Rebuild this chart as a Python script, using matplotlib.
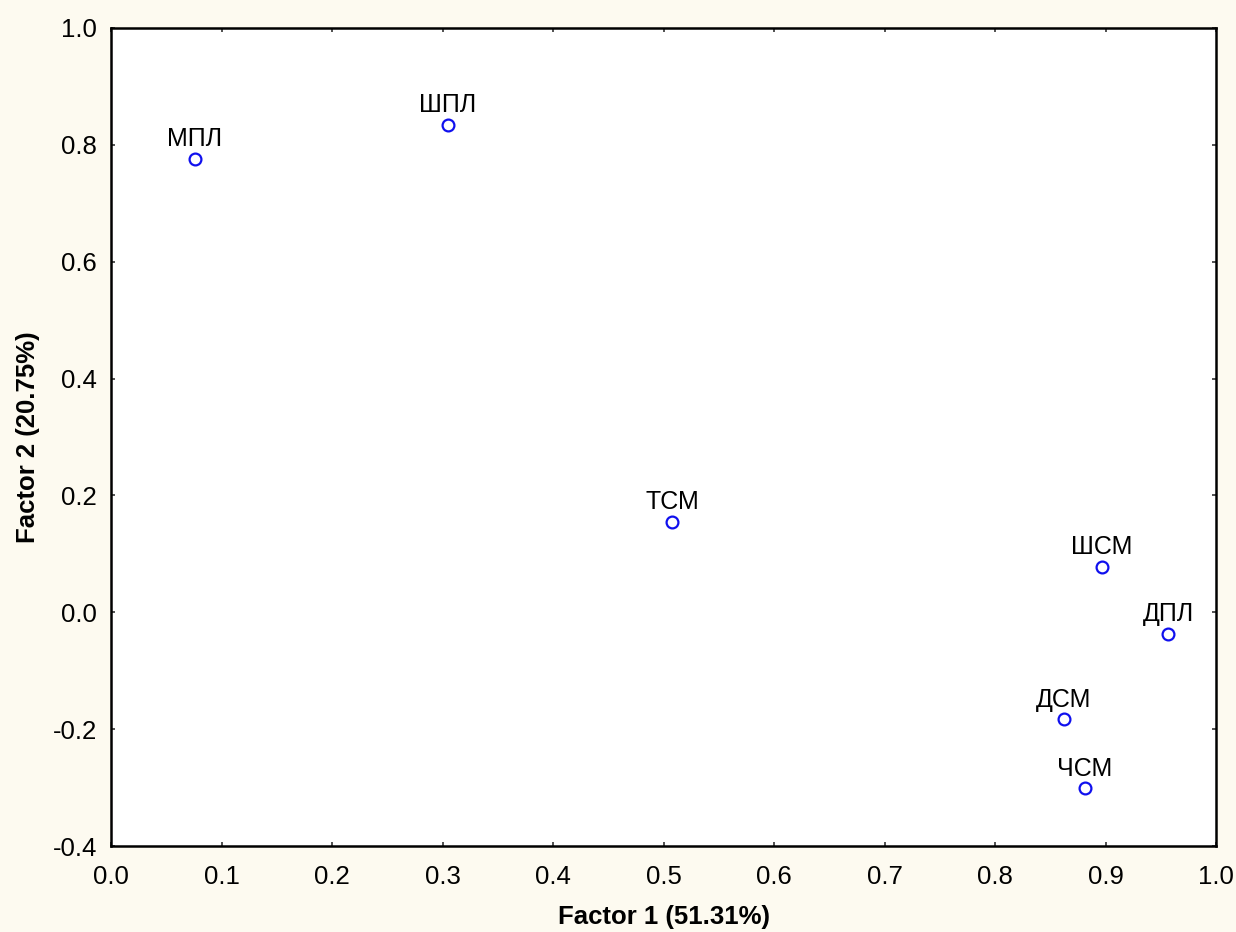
import matplotlib
matplotlib.use("Agg")
import matplotlib.pyplot as plt

labels = ["МПЛ", "ШПЛ", "ТСМ", "ШСМ", "ДПЛ", "ДСМ", "ЧСМ"]
factor1 = [0.076, 0.305, 0.508, 0.897, 0.957, 0.862, 0.881]
factor2 = [0.776, 0.834, 0.155, 0.078, -0.037, -0.183, -0.301]
xticks = [0.0, 0.1, 0.2, 0.3, 0.4, 0.5, 0.6, 0.7, 0.8, 0.9, 1.0]
yticks = [-0.4, -0.2, 0.0, 0.2, 0.4, 0.6, 0.8, 1.0]

plt.rcParams['font.family'] = ['Liberation Sans', 'DejaVu Sans']

fig = plt.figure(figsize=(12.36, 9.32), dpi=100, facecolor='#fdfaf0')
ax = fig.add_axes([111/1236, 86/932, 1105/1236, 818/932])
ax.set_facecolor('white')

ax.plot(factor1, factor2, linestyle='none', marker='o', markersize=8.5,
        markerfacecolor='none', markeredgecolor='#1010ee', markeredgewidth=1.6)
for lab, x, y in zip(labels, factor1, factor2):
    ax.annotate(lab, (x, y), xytext=(0, 5.5), textcoords='offset points',
                ha='center', va='bottom', fontsize=18, color='black')

ax.set_xlim(0.0, 1.0)
ax.set_ylim(-0.4, 1.0)
ax.set_xticks(xticks)
ax.set_yticks(yticks)
ax.set_xticklabels([f"{v:.1f}" for v in xticks])
ax.set_yticklabels([f"{v:.1f}" for v in yticks])
ax.tick_params(axis='both', direction='in', length=3, width=1.2, labelsize=18.5,
               top=True, right=True, color='#333333')
ax.tick_params(axis='x', pad=14)
ax.tick_params(axis='y', pad=10)
for s in ax.spines.values():
    s.set_linewidth(1.8)
    s.set_color('black')

ax.set_xlabel("Factor 1 (51.31%)", fontsize=18.5, fontweight='bold', labelpad=11)
ax.set_ylabel("Factor 2 (20.75%)", fontsize=18.5, fontweight='bold', labelpad=9)

fig.savefig("out.png", dpi=100, facecolor=fig.get_facecolor())
